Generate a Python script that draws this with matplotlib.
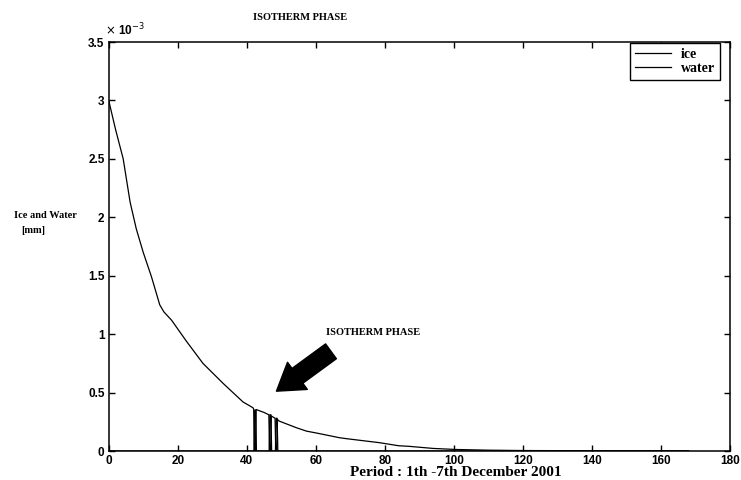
import matplotlib.pyplot as plt

# values, y in units of 1e-3 mm
hours = [0, 2, 4.2, 6.2, 8, 10, 12.4, 14.8, 16, 18.2, 22.5, 27.3, 33.1, 38.9, 41.8,
         42.0, 42.2, 42.5, 42.7, 45, 46.4, 46.6, 46.9, 47.1, 48.2, 48.4, 48.7, 48.9,
         49.4, 54.3, 57.3, 60, 66.8, 69, 78.5, 84, 87, 94, 100.6, 110, 120, 140, 168]
water = [3.0, 2.75, 2.50, 2.13, 1.90, 1.70, 1.49, 1.25, 1.19, 1.12, 0.94, 0.75, 0.58, 0.42, 0.37,
         0.36, 0.0, 0.0, 0.355, 0.33, 0.31, 0.0, 0.0, 0.30, 0.28, 0.0, 0.0, 0.27,
         0.256, 0.20, 0.17, 0.155, 0.114, 0.105, 0.071, 0.045, 0.04, 0.022, 0.013, 0.007, 0.004, 0.002, 0.001]

ice_hours = [0, 42.1, 42.3, 42.6, 42.8, 46.5, 46.7, 47.0, 47.2, 48.3, 48.5, 48.8, 49.0, 168]
ice = [0, 0, 0.35, 0.35, 0, 0, 0.31, 0.31, 0, 0, 0.28, 0.28, 0, 0]

xticks = list(range(0, 181, 20))
yticks = [0, 0.5, 1, 1.5, 2, 2.5, 3, 3.5]
ytick_labels = ['0', '0.5', '1', '1.5', '2', '2.5', '3', '3.5']

serif = 'Liberation Serif'
sans = 'Liberation Sans'

fig = plt.figure(figsize=(7.41, 4.8), dpi=100)
ax = fig.add_axes([108.7 / 741, 1 - 451 / 480, (730 - 108.7) / 741, (451 - 42) / 480])

ax.plot(ice_hours, ice, color='black', lw=0.9, label='ice')
ax.plot(hours, water, color='black', lw=0.9, label='water')

ax.set_xlim(0, 180)
ax.set_ylim(0, 3.5)
ax.set_xticks(xticks)
ax.set_yticks(yticks)
ax.set_yticklabels(ytick_labels)
ax.tick_params(direction='in', length=4, width=1, top=True, right=True, pad=3)
for lab in ax.get_xticklabels() + ax.get_yticklabels():
    lab.set_fontfamily(sans)
    lab.set_fontweight('bold')
    lab.set_fontsize(8.5)
for s in ax.spines.values():
    s.set_linewidth(1.1)

ax.text(-0.006, 1.008, r'$\times$ 10$^{-3}$', transform=ax.transAxes, ha='left', va='bottom',
        family=sans, fontweight='bold', fontsize=8.5)

leg = ax.legend(loc='upper right', bbox_to_anchor=(0.984, 0.997), borderaxespad=0,
                fancybox=False, edgecolor='black', framealpha=1, handlelength=2.6,
                handletextpad=0.7, borderpad=0.35, labelspacing=0.05,
                prop={'family': serif, 'weight': 'bold', 'size': 10})
leg.get_frame().set_linewidth(1.0)

# arrow pointing at the isotherm phase
ax.annotate('', xy=(48.6, 0.512), xytext=(64.4, 0.853),
            arrowprops=dict(arrowstyle='simple,head_length=0.85,head_width=1.1,tail_width=0.6',
                            mutation_scale=22, fc='black', ec='black', shrinkA=0, shrinkB=0))
ax.text(63.0, 1.015, 'ISOTHERM PHASE', ha='left', va='center',
        family=serif, fontweight='bold', fontsize=7.5)

fig.text(253 / 741, 1 - 17 / 480, 'ISOTHERM PHASE', ha='left', va='center',
         family=serif, fontweight='bold', fontsize=7.5)
fig.text(14 / 741, 1 - 216 / 480, 'Ice and Water', ha='left', va='center',
         family=serif, fontweight='bold', fontsize=7.5)
fig.text(21 / 741, 1 - 231 / 480, '[mm]', ha='left', va='center',
         family=serif, fontweight='bold', fontsize=7.5)
fig.text(350 / 741, 1 - 476 / 480, 'Period : 1th -7th December 2001', ha='left', va='baseline',
         family=serif, fontweight='bold', fontsize=11)

plt.savefig('out.png', dpi=100)
